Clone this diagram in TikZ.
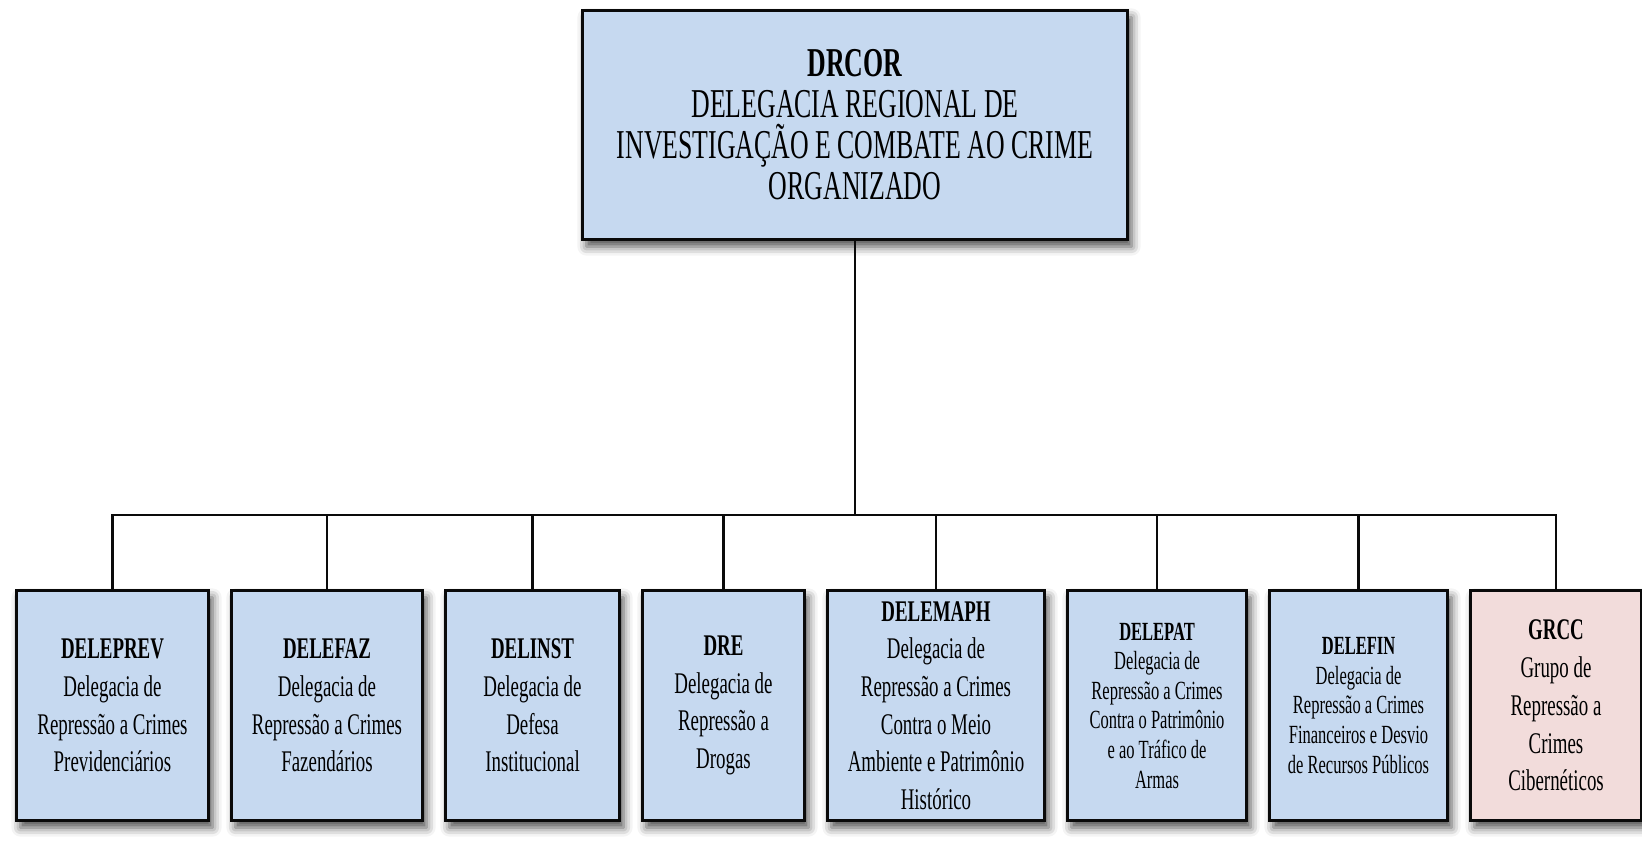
\documentclass[tikz,border=0pt]{standalone}
\usepackage{fontspec}
\setmainfont{Liberation Serif}[FakeStretch=0.63]
\usepackage{xcolor}
\usetikzlibrary{positioning,shadows.blur}
\definecolor{azulcx}{HTML}{C6D9F0}
\definecolor{rosacx}{HTML}{F2DCDB}
\definecolor{linha}{HTML}{0A0A0A}

\begin{document}
\begin{tikzpicture}[
  sombra/.style={blur shadow={shadow xshift=2pt, shadow yshift=-3.5pt,
                 shadow blur radius=4.5pt, shadow opacity=70}},
  chefe/.style={draw=linha, line width=1.4pt, fill=azulcx, align=center,
                minimum width=272.6pt, minimum height=114.6pt, inner sep=2pt,
                font={\fontsize{20.5pt}{20.5pt}\selectfont}, sombra},
  orgao/.style={draw=linha, line width=1.4pt, fill=azulcx, align=center,
                minimum height=115.1pt, inner sep=1pt, anchor=north west,
                font={\fontsize{15pt}{18.85pt}\selectfont}, sombra},
  miudo/.style={font={\fontsize{13.1pt}{14.8pt}\selectfont}},
  ciber/.style={fill=rosacx},
  liga/.style={draw=linha, line width=1.4pt, line cap=rect},
  node distance=10pt,
]
\useasboundingbox (0,0) rectangle (821pt,-423.5pt);

\node[chefe] (drcor) at (427.5pt,-62.5pt)
  {\textbf{DRCOR}\\DELEGACIA REGIONAL DE\\INVESTIGAÇÃO E COMBATE AO CRIME\\ORGANIZADO};

\node[orgao, minimum width=96.1pt] (deleprev) at (7.5pt,-294.5pt)
  {\textbf{DELEPREV}\\Delegacia de\\Repressão a Crimes\\Previdenciários};
\node[orgao, minimum width=95.6pt, right=of deleprev] (delefaz)
  {\textbf{DELEFAZ}\\Delegacia de\\Repressão a Crimes\\Fazendários};
\node[orgao, minimum width=87.1pt, right=of delefaz] (delinst)
  {\textbf{DELINST}\\Delegacia de\\Defesa\\Institucional};
\node[orgao, minimum width=81.1pt, right=of delinst] (dre)
  {\textbf{DRE}\\Delegacia de\\Repressão a\\Drogas};
\node[orgao, minimum width=108.6pt, right=of dre] (delemaph)
  {\textbf{DELEMAPH}\\Delegacia de\\Repressão a Crimes\\Contra o Meio\\Ambiente e Patrimônio\\Histórico};
\node[orgao, miudo, minimum width=89.6pt, right=of delemaph] (delepat)
  {\textbf{DELEPAT}\\Delegacia de\\Repressão a Crimes\\Contra o Patrimônio\\e ao Tráfico de\\Armas};
\node[orgao, miudo, minimum width=89.1pt, right=of delepat] (delefin)
  {\textbf{DELEFIN}\\Delegacia de\\Repressão a Crimes\\Financeiros e Desvio\\de Recursos Públicos};
\node[orgao, ciber, minimum width=85.6pt, right=of delefin] (grcc)
  {\textbf{GRCC}\\Grupo de\\Repressão a\\Crimes\\Cibernéticos};

% barramento
\coordinate[below=137pt of drcor.south] (barra);
\draw[liga] (drcor.south) -- (barra);
\draw[liga] (barra -| deleprev.north) -- (barra -| grcc.north);
\foreach \filho in {deleprev,delefaz,delinst,dre,delemaph,delepat,delefin,grcc}
  \draw[liga] (barra -| \filho.north) -- (\filho.north);
\end{tikzpicture}
\end{document}
